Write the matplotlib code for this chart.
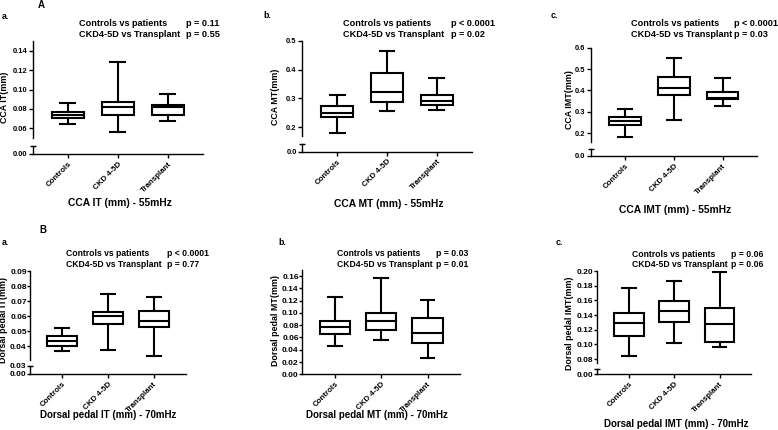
"""Box plots of CCA and dorsal pedal wall thickness, two rows of three panels."""

import matplotlib

matplotlib.use("Agg")

import matplotlib.pyplot as plt
from matplotlib.ticker import FormatStrFormatter

plt.rcParams["font.family"] = ["Liberation Sans", "DejaVu Sans"]
plt.rcParams["font.weight"] = "bold"

W, H = 778, 430

CATEGORIES = ["Controls", "CKD 4-5D", "Transplant"]

# five-number summaries per group: low whisker, Q1, median, Q3, high whisker
CCA_IT_CONTROLS = [0.0645, 0.0703, 0.0738, 0.0772, 0.0858]
CCA_IT_CKD = [0.0565, 0.0738, 0.0824, 0.0868, 0.1283]
CCA_IT_TX = [0.0679, 0.0738, 0.0824, 0.0841, 0.0955]

CCA_MT_CONTROLS = [0.181, 0.236, 0.248, 0.2745, 0.3115]
CCA_MT_CKD = [0.257, 0.288, 0.321, 0.387, 0.465]
CCA_MT_TX = [0.259, 0.276, 0.2905, 0.3115, 0.371]

CCA_IMT_CONTROLS = [0.181, 0.239, 0.256, 0.275, 0.3126]
CCA_IMT_CKD = [0.262, 0.377, 0.411, 0.464, 0.551]
CCA_IMT_TX = [0.328, 0.358, 0.366, 0.392, 0.456]

DP_IT_CONTROLS = [0.0371, 0.0404, 0.0438, 0.0467, 0.0523]
DP_IT_CKD = [0.0378, 0.0551, 0.0603, 0.0631, 0.0749]
DP_IT_TX = [0.0338, 0.0529, 0.0570, 0.0633, 0.0729]

DP_MT_CONTROLS = [0.0458, 0.0662, 0.0778, 0.0872, 0.1252]
DP_MT_CKD = [0.0563, 0.0728, 0.0872, 0.0993, 0.1572]
DP_MT_TX = [0.0259, 0.0513, 0.0679, 0.0916, 0.1203]

DP_IMT_CONTROLS = [0.0840, 0.1115, 0.1290, 0.1427, 0.1773]
DP_IMT_CKD = [0.1018, 0.1307, 0.1450, 0.1590, 0.1859]
DP_IMT_TX = [0.0959, 0.1036, 0.1284, 0.1496, 0.1990]

P_PATIENTS = ["p = 0.11", "p < 0.0001", "p < 0.0001", "p < 0.0001", "p = 0.03", "p = 0.06"]
P_TRANSPLANT = ["p = 0.55", "p = 0.02", "p = 0.03", "p = 0.77", "p = 0.01", "p = 0.06"]

PANELS = [
    dict(tag="a.", title="CCA IT (mm) - 55mHz", ylabel="CCA IT(mm)",
         groups=[CCA_IT_CONTROLS, CCA_IT_CKD, CCA_IT_TX],
         ylim=(0.05, 0.15), yticks=[0.06, 0.08, 0.10, 0.12, 0.14], fmt="%.2f",
         low=(0.0, 0.01), low_labels=("0.00", "")),
    dict(tag="b.", title="CCA MT (mm) - 55mHz", ylabel="CCA MT(mm)",
         groups=[CCA_MT_CONTROLS, CCA_MT_CKD, CCA_MT_TX],
         ylim=(0.17, 0.5), yticks=[0.2, 0.3, 0.4, 0.5], fmt="%.1f",
         low=(0.0, 0.02), low_labels=("0.00", "")),
    dict(tag="c.", title="CCA IMT (mm) - 55mHz", ylabel="CCA IMT(mm)",
         groups=[CCA_IMT_CONTROLS, CCA_IMT_CKD, CCA_IMT_TX],
         ylim=(0.16, 0.6), yticks=[0.2, 0.3, 0.4, 0.5, 0.6], fmt="%.1f",
         low=(0.0, 0.02), low_labels=("0.0", "")),
    dict(tag="a.", title="Dorsal pedal IT (mm) - 70mHz", ylabel="Dorsal pedal IT(mm)",
         groups=[DP_IT_CONTROLS, DP_IT_CKD, DP_IT_TX],
         ylim=(0.031, 0.09), yticks=[0.04, 0.05, 0.06, 0.07, 0.08, 0.09], fmt="%.2f",
         low=(0.0, 0.03), low_labels=("0.00", "0.03")),
    dict(tag="b.", title="Dorsal pedal MT (mm) - 70mHz", ylabel="Dorsal pedal MT(mm)",
         groups=[DP_MT_CONTROLS, DP_MT_CKD, DP_MT_TX],
         ylim=(0.0, 0.17), yticks=[0.00, 0.02, 0.04, 0.06, 0.08, 0.10, 0.12, 0.14, 0.16],
         fmt="%.2f", low=None, low_labels=None),
    dict(tag="c.", title="Dorsal pedal IMT (mm) - 70mHz", ylabel="Dorsal pedal IMT(mm)",
         groups=[DP_IMT_CONTROLS, DP_IMT_CKD, DP_IMT_TX],
         ylim=(0.075, 0.2), yticks=[0.08, 0.10, 0.12, 0.14, 0.16, 0.18, 0.20], fmt="%.2f",
         low=(0.0, 0.02), low_labels=("0.0", "")),
]

# pixel layout: spine x, right x, main top, main bottom, lower top, x-axis y,
# p-text left x, p column x, first p line y, ylabel x, ylabel y, title x, title y, tag x, tag y
LAYOUT = [
    (33, 203, 41.3, 138, 146, 154, 79, 185.7, 24, 5, 97, 119.5, 203, 2, 16.7),
    (302.3, 471.7, 40.7, 136, 144, 151.7, 342.7, 450.7, 24, 275, 96.7, 388.3, 204, 263, 15),
    (591, 756.7, 47.7, 141.7, 149.3, 156, 631.3, 734, 24, 569.7, 100, 674.7, 210, 551, 15),
    (30.3, 185.7, 271, 360, 365.5, 374, 66, 166.7, 253.7, 4, 320, 108.3, 414.5, 2, 242.3),
    (302.3, 460, 270, None, None, 374.3, 337.3, 435.7, 253.7, 275, 320, 376.7, 414.5, 278, 242.3),
    (597, 751.3, 271, 362.7, 369, 374.3, 632.3, 731.3, 254.3, 569.7, 323.3, 676.3, 424, 556, 242.3),
]

# per-row text sizes: p text, title, y tick labels, y tick length, y tick pad
ROW_STYLE = [
    dict(ptext=6.6, title=7.4, ytick=5.4, ylen=3.0, ypad=1.0, p_gap=10.7),
    dict(ptext=6.2, title=7.0, ytick=6.0, ylen=2.0, ypad=0.6, p_gap=10.4),
]

LW = 1.5
SPINE_LW = 1.0


def rect(left, top, right, bottom):
    return [left / W, 1 - bottom / H, (right - left) / W, (bottom - top) / H]


def style_y(ax, fmt, row):
    ax.yaxis.set_major_formatter(FormatStrFormatter(fmt))
    ax.tick_params(axis="y", direction="out", length=row["ylen"], width=SPINE_LW,
                   labelsize=row["ytick"], pad=row["ypad"])
    ax.spines["left"].set_linewidth(SPINE_LW)
    ax.spines["top"].set_visible(False)
    ax.spines["right"].set_visible(False)
    ax.set_xlim(-0.7, 2.7)
    ax.patch.set_alpha(0)


def draw_panel(fig, idx, panel, layout, row):
    (sx, rx, top, mbot, ltop, axy, ptx, pcx, py, ylx, yly, tx, ty, gx, gy) = layout
    broken = panel["low"] is not None

    ax = fig.add_axes(rect(sx, top, rx, mbot if broken else axy))
    stats = [dict(whislo=g[0], q1=g[1], med=g[2], q3=g[3], whishi=g[4], fliers=[])
             for g in panel["groups"]]
    ax.bxp(stats, positions=range(len(CATEGORIES)), widths=0.65, capwidths=0.3,
           showfliers=False, patch_artist=True,
           boxprops=dict(facecolor="white", edgecolor="black", linewidth=LW),
           medianprops=dict(color="black", linewidth=LW),
           whiskerprops=dict(color="black", linewidth=LW),
           capprops=dict(color="black", linewidth=LW))
    ax.set_ylim(*panel["ylim"])
    ax.set_yticks(panel["yticks"])
    style_y(ax, panel["fmt"], row)

    bottom_ax = ax
    if broken:
        ax.spines["bottom"].set_visible(False)
        ax.tick_params(axis="x", bottom=False, labelbottom=False)
        low = fig.add_axes(rect(sx, ltop, rx, axy))
        low.set_ylim(*panel["low"])
        low.set_yticks([panel["low"][0]])
        low.set_yticklabels([panel["low_labels"][0]])
        low.set_yticks([panel["low"][1]], minor=True)
        low.set_yticklabels([panel["low_labels"][1]], minor=True)
        style_y(low, panel["fmt"], row)
        low.tick_params(axis="y", which="minor", direction="inout", length=5,
                        width=SPINE_LW, labelsize=row["ytick"], pad=row["ypad"])
        bottom_ax = low

    bottom_ax.spines["bottom"].set_linewidth(SPINE_LW)
    bottom_ax.set_xticks(range(len(CATEGORIES)))
    bottom_ax.set_xticklabels(CATEGORIES, rotation=45, ha="right",
                              rotation_mode="anchor", fontsize=5.7)
    bottom_ax.tick_params(axis="x", direction="out", length=3, width=SPINE_LW, pad=1.5)

    # p-value block
    line2 = py + row["p_gap"]
    fs = row["ptext"]
    fig.text(ptx / W, 1 - py / H, "Controls vs patients", fontsize=fs, va="center")
    fig.text(ptx / W, 1 - line2 / H, "CKD4-5D vs Transplant", fontsize=fs, va="center")
    fig.text(pcx / W, 1 - py / H, P_PATIENTS[idx], fontsize=fs, va="center")
    fig.text(pcx / W, 1 - line2 / H, P_TRANSPLANT[idx], fontsize=fs, va="center")

    fig.text(ylx / W, 1 - yly / H, panel["ylabel"], rotation=90, fontsize=6.4,
             ha="center", va="center")
    fig.text(tx / W, 1 - ty / H, panel["title"], fontsize=row["title"],
             ha="center", va="center")
    fig.text(gx / W, 1 - gy / H, panel["tag"], fontsize=6.4, ha="left", va="center")


fig = plt.figure(figsize=(W / 100, H / 100), dpi=100)
fig.patch.set_facecolor("white")

for i, (panel, layout) in enumerate(zip(PANELS, LAYOUT)):
    draw_panel(fig, i, panel, layout, ROW_STYLE[i // 3])

fig.text(41.7 / W, 1 - 5 / H, "A", fontsize=7, ha="center", va="center")
fig.text(42.7 / W, 1 - 230 / H, "B", fontsize=7, ha="center", va="center")

fig.savefig("out.png", dpi=100, facecolor="white")
